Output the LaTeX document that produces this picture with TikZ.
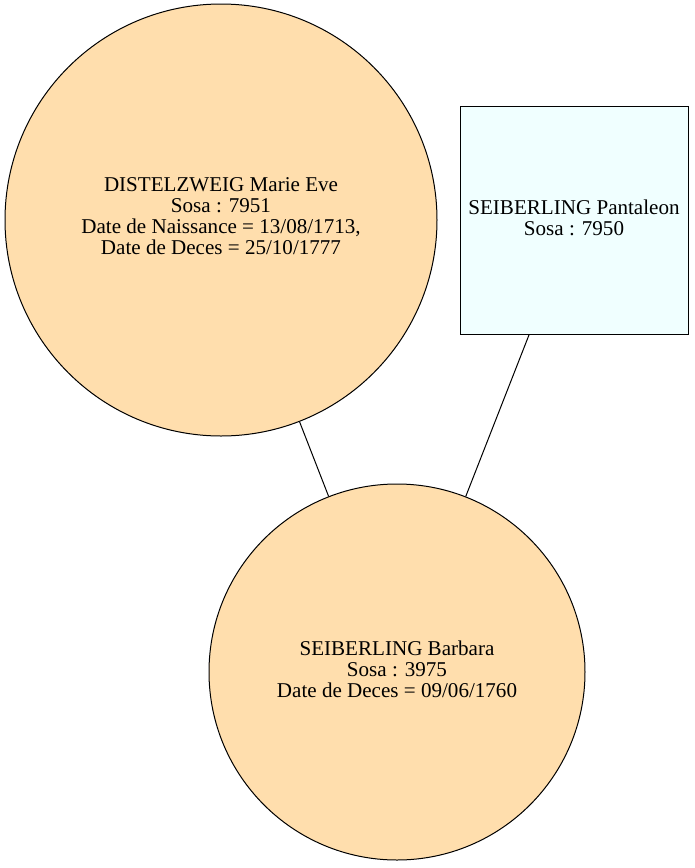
\documentclass[tikz,border=0pt]{standalone}
\usepackage{fontspec}
\setmainfont{Liberation Serif}
\begin{document}
\begin{tikzpicture}[x=0.75pt,y=-0.75pt,
  person/.style={circle,draw=black,line width=0.75pt,fill=navaj,inner sep=0pt},
  boxnode/.style={rectangle,draw=black,line width=0.75pt,fill=azur,inner sep=0pt},
  txt/.style={align=center,inner sep=0pt,font=\fontsize{15.8}{15.75}\selectfont},
  link/.style={draw=black,line width=0.75pt}]
\definecolor{navaj}{HTML}{FFDEAD}
\definecolor{azur}{HTML}{F0FFFF}
\useasboundingbox (0,0) rectangle (694,868);
\node[person,minimum size=324pt] (m) at (221,220) {};
\node[txt] (mt) at (221,216) {DISTELZWEIG Marie Eve\\Sosa : 7951\\Date de Naissance = 13/08/1713,\\Date de Deces = 25/10/1777};
\node[boxnode,minimum width=171pt,minimum height=171pt] (p) at (574,220) {};
\node[txt] (pt) at (574,218) {SEIBERLING Pantaleon\\Sosa : 7950};
\node[person,minimum size=282pt] (b) at (397,672) {};
\node[txt] (bt) at (397,669) {SEIBERLING Barbara\\Sosa : 3975\\Date de Deces = 09/06/1760};
\draw[link] (m) -- (b);
\draw[link] (p) -- (b);
\end{tikzpicture}
\end{document}
